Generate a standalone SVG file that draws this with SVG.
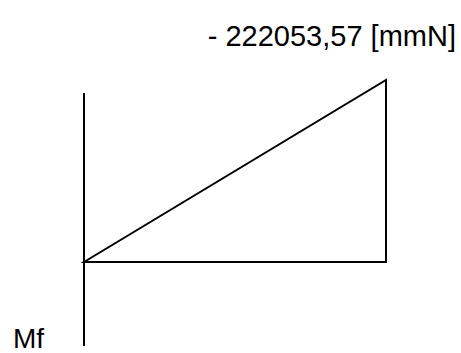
<svg xmlns="http://www.w3.org/2000/svg" width="461" height="353" viewBox="0 0 461 353">
<style>
.t{font-family:"Liberation Sans",Arial,sans-serif;font-size:29px;fill:#000}
.l{stroke:#000;stroke-width:2;fill:none}
</style>
<rect width="461" height="353" fill="#fff"/>
<g id="axis"><line class="l" x1="84" y1="93" x2="84" y2="346"/></g>
<g id="diagram"><polygon class="l" points="84,262 386,80 386,262"/></g>
<g id="labels">
<text class="t" x="456" y="46" text-anchor="end">- 222053,57 [mmN]</text>
<text class="t" x="13" y="348" style="font-size:28px">Mf</text>
</g>
</svg>
